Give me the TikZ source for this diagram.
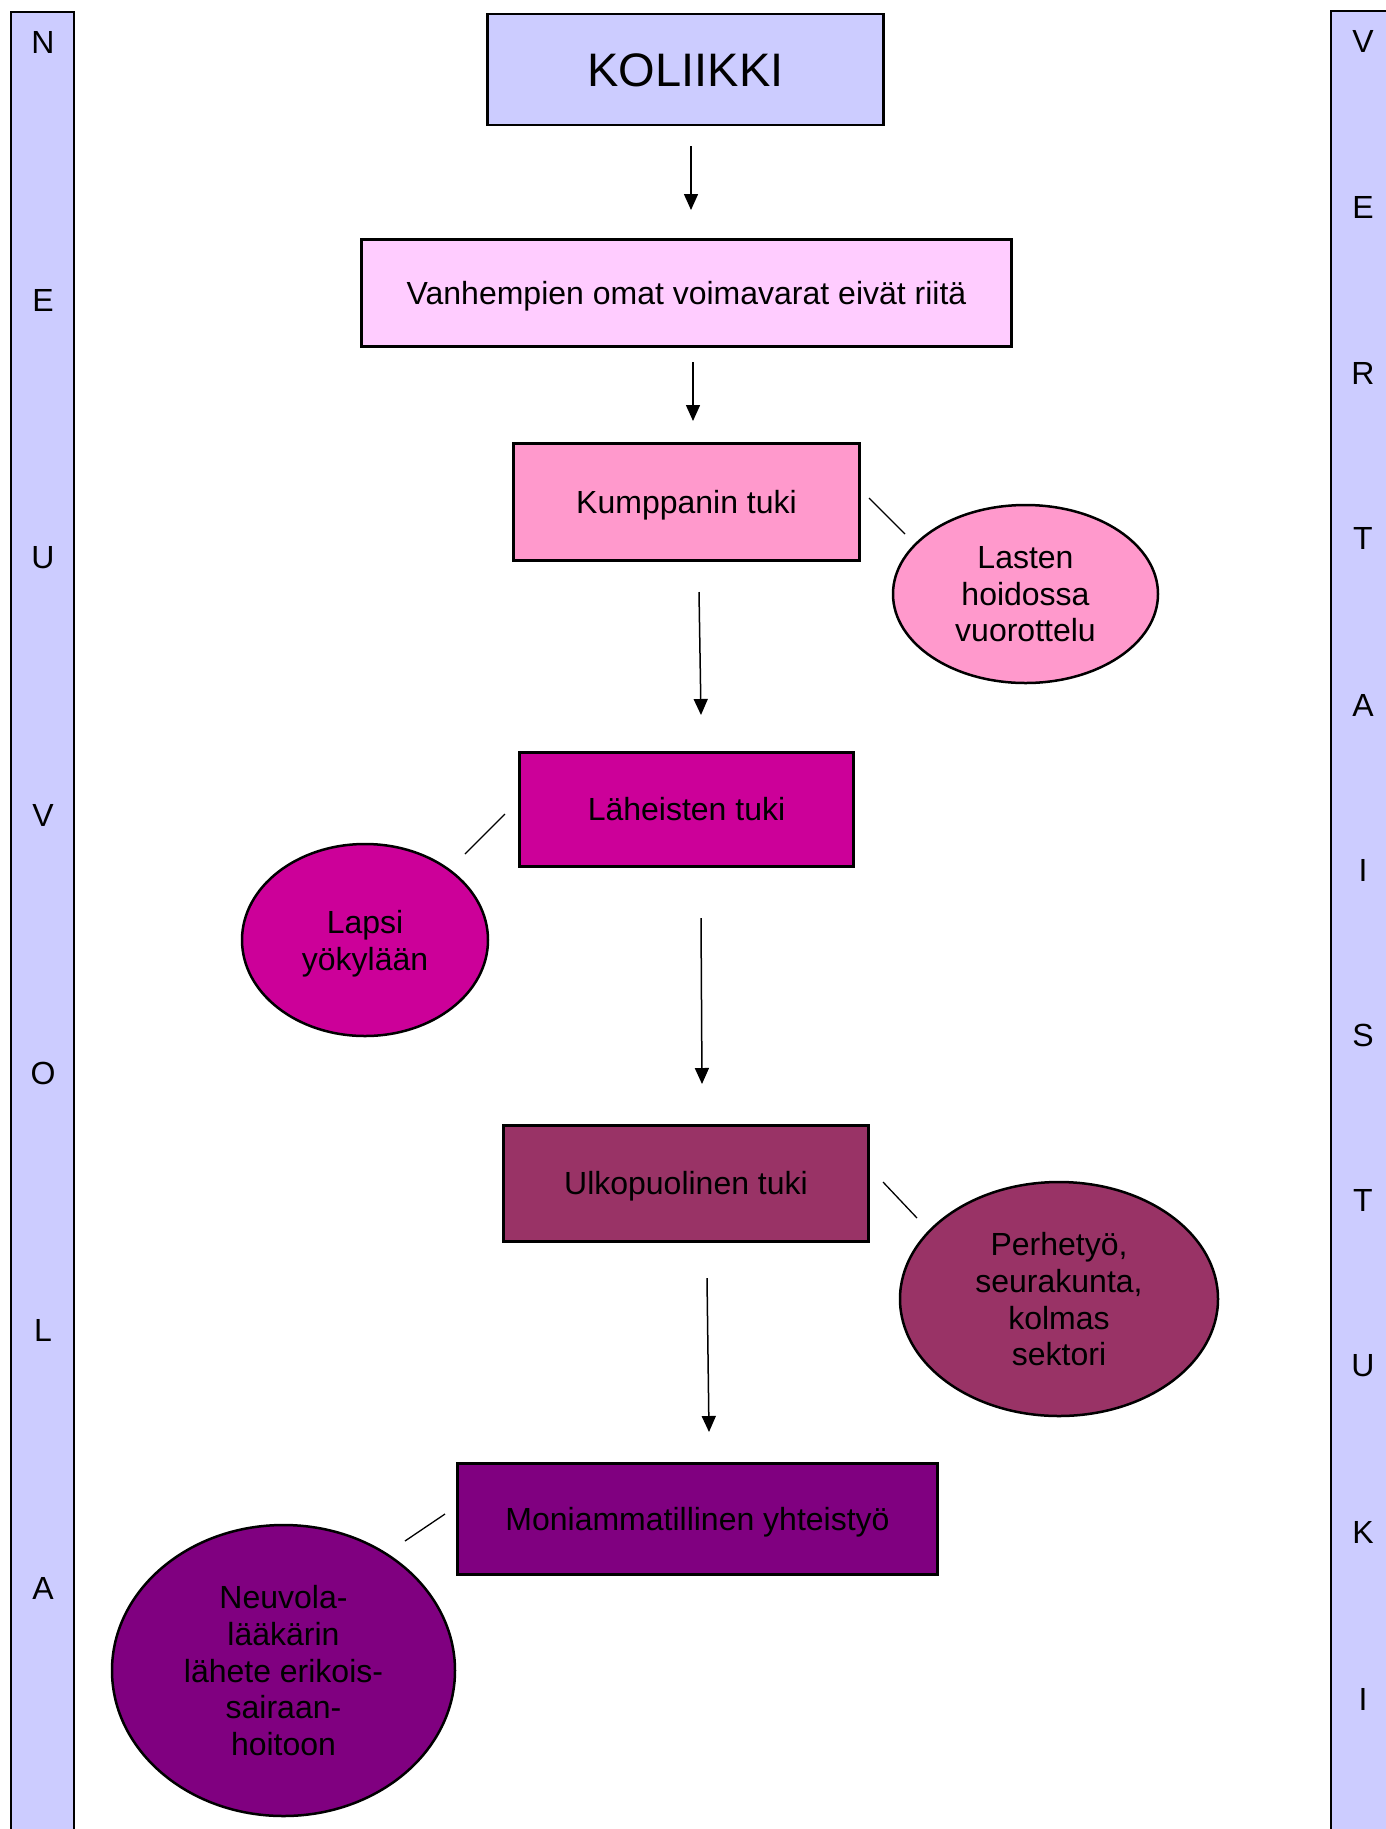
\documentclass[tikz,border=0pt]{standalone}
\usepackage{fontspec}
\setmainfont{Liberation Sans}
\usetikzlibrary{arrows.meta,shapes.geometric}
\definecolor{lav}{HTML}{CCCCFF}
\definecolor{lpink}{HTML}{FFCCFF}
\definecolor{mpink}{HTML}{FF99CC}
\definecolor{magent}{HTML}{CC0099}
\definecolor{plum}{HTML}{993366}
\definecolor{purp}{HTML}{800080}
\begin{document}
\begin{tikzpicture}[x=1pt,y=-1pt,
  txt/.style={font=\fontsize{32}{36.8}\selectfont},
  bx/.style={draw=black,line width=2.5pt,rectangle,inner sep=0pt,txt,text height=22.9pt,text depth=0pt},
  ell/.style={draw=black,line width=2.5pt,ellipse,inner sep=0pt,txt,align=center,text depth=0pt},
  arr/.style={line width=1.5pt,-{Triangle[width=14pt,length=16pt]}},
  lnk/.style={line width=1.3pt},
  bar/.style={fill=lav,draw=black,line width=2.5pt},
  ltr/.style={txt,inner sep=0pt}]
\clip (0,0) rectangle (1386,1829);
\fill[white] (0,0) rectangle (1386,1829);
% side bars
\path[bar] (11,12) rectangle (74,1870);
\path[bar] (1331,11) rectangle (1430,1870);
\foreach \l/\y [count=\i] in {N/42,E/300,U/558,V/815,O/1073,L/1330,A/1588}
  \node[ltr] (L\i) at (43,\y) {\l};
\foreach \l/\y [count=\i] in {V/41,E/207,R/373,T/538,A/705,I/870,S/1035,T/1200,U/1366,K/1532,I/1699}
  \node[ltr] (R\i) at (1363,\y) {\l};
% boxes
\node[bx,fill=lav,minimum width=396pt,minimum height=111pt,font=\fontsize{47}{54}\selectfont,text height=33.6pt] (kol) at (685.5,69.5) {KOLIIKKI};
\node[bx,fill=lpink,minimum width=650pt,minimum height=107pt] (vanh) at (686.5,293) {Vanhempien omat voimavarat eivät riitä};
\node[bx,fill=mpink,minimum width=346pt,minimum height=117pt] (kump) at (686.5,502) {Kumppanin tuki};
\node[bx,fill=magent,minimum width=334pt,minimum height=114pt] (lah) at (686.5,809.5) {Läheisten tuki};
\node[bx,fill=plum,minimum width=365pt,minimum height=116pt] (ulko) at (686,1183.5) {Ulkopuolinen tuki};
\node[bx,fill=purp,minimum width=480pt,minimum height=111pt] (moni) at (697.5,1519) {Moniammatillinen yhteistyö};
% ellipses
\node[ell,fill=mpink,minimum width=265pt,minimum height=178pt] (lasten) at (1025.5,594) {Lasten\\hoidossa\\vuorottelu};
\node[ell,fill=magent,minimum width=246pt,minimum height=192pt] (lapsi) at (365,940) {Lapsi\\yökylään};
\node[ell,fill=plum,minimum width=318pt,minimum height=234pt] (perhe) at (1059,1299) {Perhetyö,\\seurakunta,\\kolmas\\sektori};
\node[ell,fill=purp,minimum width=343pt,minimum height=291pt] (neuv) at (283.5,1670.5) {Neuvola-\\lääkärin\\lähete erikois-\\sairaan-\\hoitoon};
% connector end points
\coordinate (a1s) at (691,146); \coordinate (a1e) at (691,210);
\coordinate (a2s) at (693,362); \coordinate (a2e) at (693,421);
\coordinate (a3s) at (699,592); \coordinate (a3e) at (701,715);
\coordinate (a4s) at (701,918); \coordinate (a4e) at (702,1084);
\coordinate (a5s) at (707,1278); \coordinate (a5e) at (709,1432);
\coordinate (l1s) at (869,498); \coordinate (l1e) at (905,534);
\coordinate (l2s) at (505,814); \coordinate (l2e) at (465,854);
\coordinate (l3s) at (883,1182); \coordinate (l3e) at (917,1218);
\coordinate (l4s) at (445,1514); \coordinate (l4e) at (405,1541);
\draw[arr] (a1s) -- (a1e);
\draw[arr] (a2s) -- (a2e);
\draw[arr] (a3s) -- (a3e);
\draw[arr] (a4s) -- (a4e);
\draw[arr] (a5s) -- (a5e);
\draw[lnk] (l1s) -- (l1e);
\draw[lnk] (l2s) -- (l2e);
\draw[lnk] (l3s) -- (l3e);
\draw[lnk] (l4s) -- (l4e);
\end{tikzpicture}
\end{document}
